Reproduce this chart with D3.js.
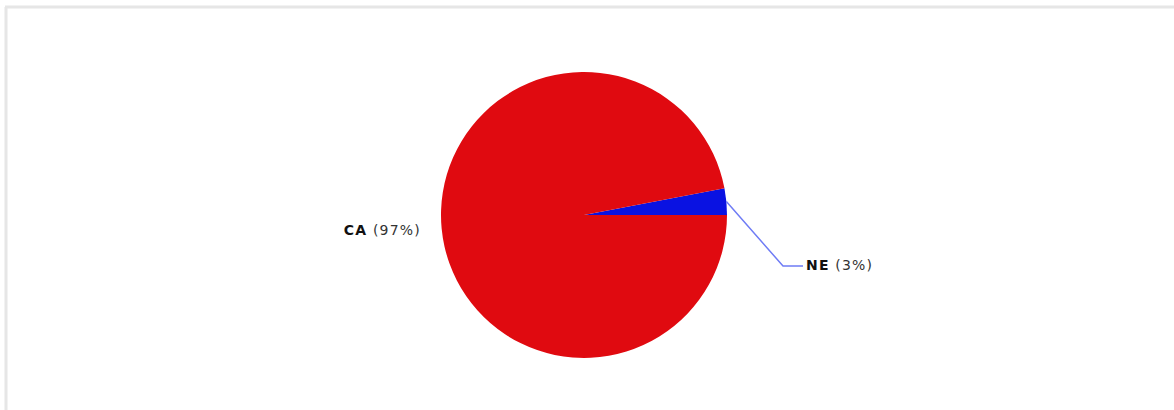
<!DOCTYPE html>
<html>
<head>
<meta charset="utf-8">
<script src="https://cdn.jsdelivr.net/npm/d3@7"></script>
<style>
  html, body { margin: 0; padding: 0; background: #fff; }
  svg { display: block; }
</style>
</head>
<body>
<svg id="chart" width="1174" height="410"></svg>
<script>
// Share of records by state
const categories = ["NE", "CA"];
const values = [3, 97];
const colors = ["#0a12e2", "#e00a10"];

const W = 1174, H = 410;
const svg = d3.select("#chart");

// panel frame (top and left edges)
svg.append("rect").attr("x", 0).attr("y", 0).attr("width", W).attr("height", H).attr("fill", "#fff");
svg.append("line").attr("x1", 5).attr("x2", W).attr("y1", 7).attr("y2", 7)
  .attr("stroke", "#e6e6e6").attr("stroke-width", 3);
svg.append("line").attr("x1", 6).attr("x2", 6).attr("y1", 7).attr("y2", H)
  .attr("stroke", "#e6e6e6").attr("stroke-width", 3);

const cx = 584, cy = 215, r = 143;
const total = d3.sum(values);
// first slice ends at 3 o'clock, drawn counter-clockwise above it
const start = Math.PI / 2 - (values[0] / total) * 2 * Math.PI;
const pie = d3.pie().sort(null).value(d => d.v)
  .startAngle(start).endAngle(start + 2 * Math.PI);
const data = categories.map((c, i) => ({ c, v: values[i], color: colors[i] }));
const arcs = pie(data);
const arc = d3.arc().innerRadius(0).outerRadius(r);

const g = svg.append("g").attr("transform", `translate(${cx},${cy})`);
g.selectAll("path.slice").data(arcs).join("path")
  .attr("class", "slice")
  .attr("d", arc)
  .attr("fill", d => d.data.color);

function pct(d) { return Math.round(d.data.v / total * 100) + "%"; }

// small slice: leader line out to the right
const small = arcs[0];
const mid = (small.startAngle + small.endAngle) / 2;
const p0 = [Math.sin(mid) * r, -Math.cos(mid) * r];
const elbow = [199, 51];
const end = [219, 51];
g.append("polyline")
  .attr("points", [p0, elbow, end].map(p => p.join(",")).join(" "))
  .attr("fill", "none").attr("stroke", "#6f7cf5").attr("stroke-width", 1.5);

function label(x, y, anchor, d) {
  const t = g.append("text").attr("x", x).attr("y", y)
    .attr("text-anchor", anchor).attr("dominant-baseline", "middle")
    .style("font-family", "'DejaVu Sans', Verdana, sans-serif")
    .style("font-size", "14px")
    .style("letter-spacing", "1.2px");
  t.append("tspan").attr("font-weight", "bold").attr("fill", "#111").text(d.data.c);
  t.append("tspan").attr("fill", "#333").text(" (" + pct(d) + ")");
}
label(end[0] + 3, end[1], "start", small);

// large slice: label at its mid-angle, left of the pie
const big = arcs[1];
const midB = (big.startAngle + big.endAngle) / 2;
label(-r - 20, -Math.cos(midB) * r + 3, "end", big);
</script>
</body>
</html>
